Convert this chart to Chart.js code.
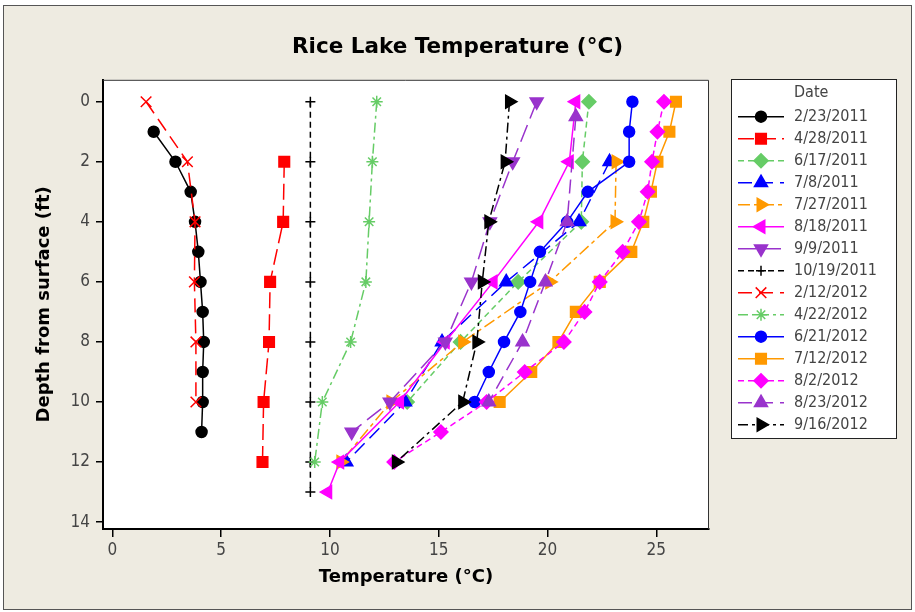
<!DOCTYPE html>
<html>
<head>
<meta charset="utf-8">
<title>Rice Lake Temperature</title>
<script src="https://cdn.jsdelivr.net/npm/chart.js@4.4.1/dist/chart.umd.min.js"></script>
<style>
  html, body { margin: 0; padding: 0; background: #fff; }
  #wrap { width: 915px; height: 612px; }
</style>
</head>
<body>
<div id="wrap"><canvas id="lakeChart" width="915" height="612"></canvas></div>
<script>
// sampling dates, in legend order
const dateLabels = ['2/23/2011', '4/28/2011', '6/17/2011', '7/8/2011', '7/27/2011', '8/18/2011', '9/9/2011',
  '10/19/2011', '2/12/2012', '4/22/2012', '6/21/2012', '7/12/2012', '8/2/2012', '8/23/2012', '9/16/2012'];

// depth from surface (ft) and temperature (°C) for each date
const depth_0223_2011 = [1, 2, 3, 4, 5, 6, 7, 8, 9, 10, 11];
const temp_0223_2011 = [1.9, 2.9, 3.6, 3.8, 3.95, 4.05, 4.15, 4.2, 4.15, 4.15, 4.1];
const depth_0428_2011 = [2, 4, 6, 8, 10, 12];
const temp_0428_2011 = [7.9, 7.85, 7.25, 7.2, 6.95, 6.9];
const depth_0617_2011 = [0, 2, 4, 6, 8, 10];
const temp_0617_2011 = [21.9, 21.6, 21.55, 18.65, 16.0, 13.55];
const depth_0708_2011 = [2, 4, 6, 8, 10, 12];
const temp_0708_2011 = [22.85, 21.45, 18.1, 15.15, 13.45, 10.75];
const depth_0727_2011 = [2, 4, 6, 8, 10, 12];
const temp_0727_2011 = [23.15, 23.1, 20.1, 16.1, 12.8, 10.5];
const depth_0818_2011 = [0, 2, 4, 6, 8, 10, 12, 13];
const temp_0818_2011 = [21.3, 21.0, 19.6, 17.5, 15.3, 13.2, 10.45, 9.9];
const depth_0909_2011 = [0, 2, 4, 6, 8, 10, 11];
const temp_0909_2011 = [19.5, 18.4, 17.35, 16.5, 15.3, 12.75, 11.0];
const depth_1019_2011 = [0, 2, 4, 6, 8, 10, 12, 13];
const temp_1019_2011 = [9.1, 9.1, 9.1, 9.1, 9.1, 9.1, 9.1, 9.1];
const depth_0212_2012 = [0, 2, 4, 6, 8, 10];
const temp_0212_2012 = [1.55, 3.45, 3.8, 3.77, 3.84, 3.84];
const depth_0422_2012 = [0, 2, 4, 6, 8, 10, 12];
const temp_0422_2012 = [12.15, 11.95, 11.8, 11.65, 10.95, 9.65, 9.3];
const depth_0621_2012 = [0, 1, 2, 3, 4, 5, 6, 7, 8, 9, 10];
const temp_0621_2012 = [23.9, 23.75, 23.75, 21.85, 20.9, 19.65, 19.2, 18.75, 18.0, 17.3, 16.65];
const depth_0712_2012 = [0, 1, 2, 3, 4, 5, 6, 7, 8, 9, 10];
const temp_0712_2012 = [25.9, 25.6, 25.05, 24.75, 24.4, 23.85, 22.4, 21.3, 20.5, 19.25, 17.8];
const depth_0802_2012 = [0, 1, 2, 3, 4, 5, 6, 7, 8, 9, 10, 11, 12];
const temp_0802_2012 = [25.35, 25.05, 24.8, 24.6, 24.2, 23.45, 22.4, 21.7, 20.75, 18.95, 17.2, 15.1, 12.95];
const depth_0823_2012 = [0.5, 4, 6, 8, 10];
const temp_0823_2012 = [21.3, 20.9, 19.9, 18.85, 17.3];
const depth_0916_2012 = [0, 2, 4, 6, 8, 10, 12];
const temp_0916_2012 = [18.25, 18.05, 17.3, 17.0, 16.75, 16.1, 13.05];

const xTicks = [0, 5, 10, 15, 20, 25];
const yTicks = [0, 2, 4, 6, 8, 10, 12, 14];

const depthSets = [depth_0223_2011, depth_0428_2011, depth_0617_2011, depth_0708_2011, depth_0727_2011,
  depth_0818_2011, depth_0909_2011, depth_1019_2011, depth_0212_2012, depth_0422_2012, depth_0621_2012,
  depth_0712_2012, depth_0802_2012, depth_0823_2012, depth_0916_2012];
const tempSets = [temp_0223_2011, temp_0428_2011, temp_0617_2011, temp_0708_2011, temp_0727_2011,
  temp_0818_2011, temp_0909_2011, temp_1019_2011, temp_0212_2012, temp_0422_2012, temp_0621_2012,
  temp_0712_2012, temp_0802_2012, temp_0823_2012, temp_0916_2012];

// look of each series (colour, marker, dash)
const styles = [
  { color: '#000000', marker: 'circle', rot: 0, r: 5.5, dash: [] },
  { color: '#FF0000', marker: 'rect', rot: 0, r: 7.5, dash: [16, 6] },
  { color: '#66CC66', marker: 'rectRot', rot: 0, r: 7, dash: [6, 4] },
  { color: '#0000FF', marker: 'triangle', rot: 0, r: 7.5, dash: [14, 7] },
  { color: '#FF9900', marker: 'triangle', rot: 90, r: 7.5, dash: [12, 4, 4, 4] },
  { color: '#FF00FF', marker: 'triangle', rot: -90, r: 7.5, dash: [] },
  { color: '#9933CC', marker: 'triangle', rot: 180, r: 7.5, dash: [18, 7] },
  { color: '#000000', marker: 'cross', rot: 0, r: 5, dash: [6, 4] },
  { color: '#FF0000', marker: 'crossRot', rot: 0, r: 7.5, dash: [14, 7] },
  { color: '#66CC66', marker: 'star', rot: 0, r: 6, dash: [10, 4, 3, 4] },
  { color: '#0000FF', marker: 'circle', rot: 0, r: 5.5, dash: [] },
  { color: '#FF9900', marker: 'rect', rot: 0, r: 7.5, dash: [] },
  { color: '#FF00FF', marker: 'rectRot', rot: 0, r: 7, dash: [6, 4] },
  { color: '#9933CC', marker: 'triangle', rot: 0, r: 7.5, dash: [14, 7] },
  { color: '#000000', marker: 'triangle', rot: 90, r: 7.5, dash: [10, 4, 3, 4] }
];

const tickFont = "'Liberation Sans Narrow', 'DejaVu Sans Condensed', sans-serif";
const boldFont = "'DejaVu Sans', sans-serif";

const datasets = dateLabels.map((label, i) => {
  const s = styles[i];
  return {
    label: label,
    data: depthSets[i].map((d, k) => ({ x: tempSets[i][k], y: d })),
    showLine: true,
    borderColor: s.color,
    backgroundColor: s.color,
    borderWidth: 1.5,
    borderDash: s.dash,
    pointStyle: s.marker,
    pointRotation: s.rot,
    pointRadius: s.r,
    pointBackgroundColor: s.color,
    pointBorderColor: s.color,
    pointBorderWidth: 1.5,
    order: dateLabels.length - i // later dates drawn on top
  };
});

// beige graph region, white data region, and the legend box
const minitabLook = {
  id: 'minitabLook',
  beforeDraw(chart) {
    const { ctx, chartArea: a, width, height } = chart;
    ctx.save();
    ctx.fillStyle = '#ffffff';
    ctx.fillRect(0, 0, width, height);
    ctx.fillStyle = '#EEEBE1';
    ctx.fillRect(4, 6, width - 8, height - 9);
    ctx.strokeStyle = '#555555';
    ctx.lineWidth = 1;
    ctx.strokeRect(3.5, 5.5, width - 7, height - 8);
    ctx.fillStyle = '#ffffff';
    ctx.fillRect(a.left, a.top, a.right - a.left, a.bottom - a.top);
    ctx.restore();
  },
  afterDraw(chart) {
    const { ctx, chartArea: a } = chart;
    ctx.save();
    ctx.strokeStyle = '#333333';
    ctx.lineWidth = 1;
    ctx.beginPath();
    ctx.moveTo(a.left, a.top + 0.5);
    ctx.lineTo(a.right - 0.5, a.top + 0.5);
    ctx.lineTo(a.right - 0.5, a.bottom);
    ctx.stroke();

    // legend
    const box = { left: 731, top: 79, right: 896, bottom: 438 };
    ctx.fillStyle = '#ffffff';
    ctx.fillRect(box.left, box.top, box.right - box.left, box.bottom - box.top);
    ctx.strokeStyle = '#222222';
    ctx.strokeRect(box.left + 0.5, box.top + 0.5, box.right - box.left, box.bottom - box.top);
    ctx.font = '16px ' + tickFont;
    ctx.textBaseline = 'middle';
    ctx.textAlign = 'left';
    ctx.fillStyle = '#444444';
    ctx.fillText('Date', 794, 93);
    chart.data.datasets.forEach((ds, i) => {
      const y = 116.7 + i * 22;
      ctx.strokeStyle = ds.borderColor;
      ctx.lineWidth = ds.borderWidth;
      ctx.setLineDash(ds.borderDash);
      ctx.beginPath();
      ctx.moveTo(738, y);
      ctx.lineTo(784, y);
      ctx.stroke();
      ctx.setLineDash([]);
      ctx.fillStyle = ds.pointBackgroundColor;
      ctx.strokeStyle = ds.pointBorderColor;
      ctx.lineWidth = ds.pointBorderWidth;
      Chart.helpers.drawPoint(ctx, {
        pointStyle: ds.pointStyle, rotation: ds.pointRotation,
        radius: ds.pointRadius, borderWidth: ds.pointBorderWidth
      }, 761, y);
      ctx.fillStyle = '#444444';
      ctx.fillText(ds.label, 794, y);
    });
    ctx.restore();
  }
};

new Chart(document.getElementById('lakeChart'), {
  type: 'scatter',
  data: { datasets: datasets },
  plugins: [minitabLook],
  options: {
    responsive: false,
    animation: false,
    layout: { padding: 0 },
    plugins: {
      legend: { display: false },
      tooltip: { enabled: false },
      title: {
        display: true,
        text: 'Rice Lake Temperature (°C)',
        color: '#000000',
        font: { family: boldFont, size: 21.5, weight: 'bold', lineHeight: 1.2 },
        padding: { top: 35, bottom: 19 }
      }
    },
    scales: {
      x: {
        type: 'linear',
        position: 'bottom',
        min: -0.43,
        max: 27.42,
        afterBuildTicks: s => { s.ticks = xTicks.map(v => ({ value: v })); },
        afterFit: s => { s.height = 83; },
        grid: { drawOnChartArea: false, drawTicks: true, tickLength: 8, color: '#000000', lineWidth: 1.5 },
        border: { display: true, color: '#000000', width: 2 },
        ticks: { color: '#444444', padding: 3, font: { family: tickFont, size: 17 } },
        title: {
          display: true,
          text: 'Temperature (°C)',
          color: '#000000',
          font: { family: boldFont, size: 18, weight: 'bold', lineHeight: 1.2 },
          padding: { top: 0, bottom: 24 }
        }
      },
      y: {
        type: 'linear',
        position: 'left',
        reverse: true,
        min: -0.73,
        max: 14.23,
        afterBuildTicks: s => { s.ticks = yTicks.map(v => ({ value: v })); },
        afterFit: s => { s.width = 103; },
        grid: { drawOnChartArea: false, drawTicks: true, tickLength: 7, color: '#000000', lineWidth: 1.5 },
        border: { display: true, color: '#000000', width: 2 },
        ticks: { color: '#444444', padding: 6, font: { family: tickFont, size: 17 } },
        title: {
          display: true,
          text: 'Depth from surface (ft)',
          color: '#000000',
          font: { family: boldFont, size: 18, weight: 'bold', lineHeight: 1.2 },
          padding: { top: 34, bottom: 0 }
        }
      },
      // empty axis that only reserves the room taken by the legend
      legendRoom: {
        type: 'linear',
        position: 'right',
        display: true,
        afterFit: s => { s.width = 206; },
        grid: { display: false, drawTicks: false },
        border: { display: false },
        ticks: { display: false }
      }
    }
  }
});
</script>
</body>
</html>
